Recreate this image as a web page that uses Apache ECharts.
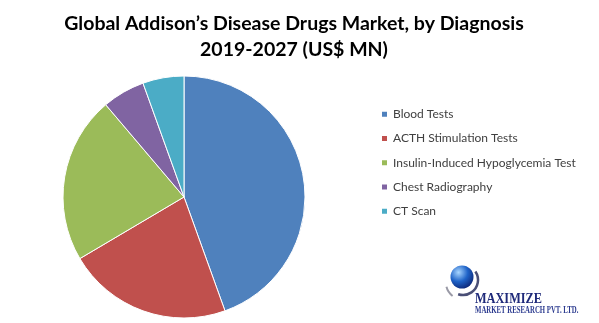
<!DOCTYPE html>
<html>
<head>
<meta charset="utf-8">
<script src="https://cdn.jsdelivr.net/npm/echarts@6/dist/echarts.min.js"></script>
<style>
html,body{margin:0;padding:0;background:#fff;}
#chart{width:599px;height:323px;}
</style>
</head>
<body>
<div id="chart"></div>
<script>
var titleLines = ['Global Addison\u2019s Disease Drugs Market, by Diagnosis', '2019-2027 (US$ MN)'];
var categories = ['Blood Tests', 'ACTH Stimulation Tests', 'Insulin-Induced Hypoglycemia Test', 'Chest Radiography', 'CT Scan'];
var values = [44.5, 22.0, 22.3, 5.7, 5.5];
var colors = ['#4F81BD', '#C0504D', '#9BBB59', '#8064A2', '#4BACC6'];
var logoLines = ['MAXIMIZE', 'MARKET RESEARCH PVT. LTD.'];

var chart = echarts.init(document.getElementById('chart'), null, {renderer: 'canvas'});
var data = categories.map(function (c, i) {
  return {name: c, value: values[i], itemStyle: {color: colors[i]}};
});
chart.setOption({
  animation: false,
  backgroundColor: '#ffffff',
  title: {
    text: titleLines.join('\n'),
    left: 289,
    textAlign: 'center',
    top: 6,
    textStyle: {fontFamily: 'Lato', fontSize: 19.5, fontWeight: 'bold', color: '#000', lineHeight: 26}
  },
  legend: {
    orient: 'vertical',
    left: 375,
    top: 102,
    icon: 'rect',
    itemWidth: 7,
    itemHeight: 7,
    itemGap: 10,
    data: categories,
    textStyle: {fontFamily: 'Lato', fontSize: 12, color: '#404040', lineHeight: 14.3}
  },
  series: [{
    type: 'pie',
    center: [184, 197],
    radius: 121,
    startAngle: 90,
    clockwise: true,
    label: {show: false},
    labelLine: {show: false},
    emphasis: {disabled: true},
    itemStyle: {borderColor: '#fff', borderWidth: 1},
    data: data
  }],
  graphic: [
    {type: 'arc', shape: {cx: 463, cy: 280, r: 15, startAngle: -0.6, endAngle: 1.9}, style: {stroke: '#4a4f76', lineWidth: 2.5, fill: null}},
    {type: 'arc', shape: {cx: 462, cy: 283, r: 16, startAngle: 2.2, endAngle: 2.9}, style: {stroke: '#9a9aa6', lineWidth: 2, fill: null}},
    {type: 'circle', shape: {cx: 462, cy: 277, r: 11.5},
     style: {fill: new echarts.graphic.RadialGradient(0.35, 0.3, 0.8, [{offset: 0, color: '#a8d6ff'}, {offset: 0.5, color: '#1f63c8'}, {offset: 1, color: '#0a1f6e'}])}},
    {type: 'text', x: 475, y: 292, scaleX: 0.82, style: {text: logoLines[0], font: 'bold 15px "Liberation Serif"', fill: '#1f2a7a'}},
    {type: 'text', x: 475, y: 305, scaleX: 0.68, style: {text: logoLines[1], font: 'bold 10px "Liberation Serif"', fill: '#2b3a8f'}}
  ]
});
</script>
</body>
</html>
